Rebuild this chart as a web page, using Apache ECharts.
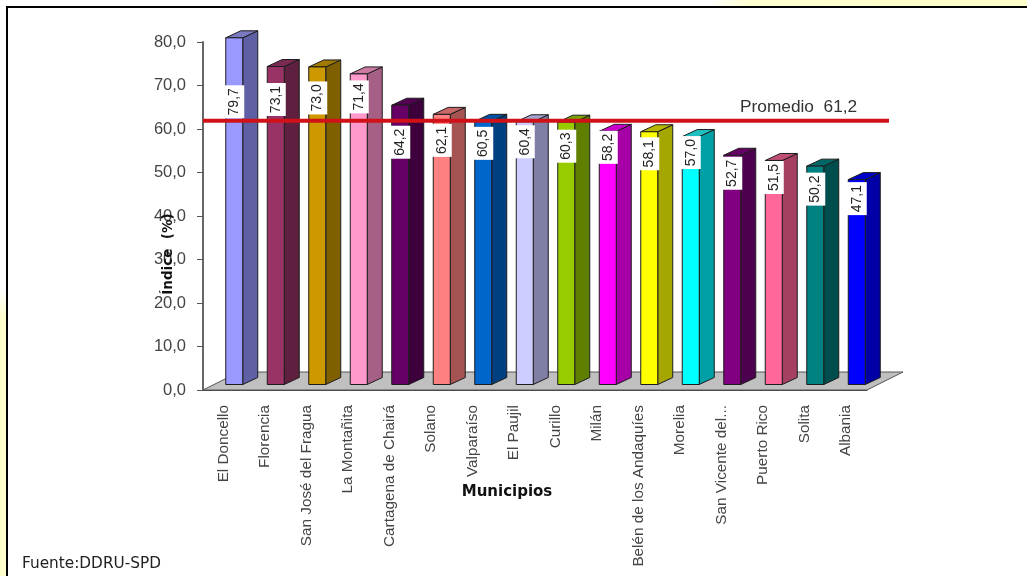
<!DOCTYPE html>
<html>
<head>
<meta charset="utf-8">
<style>html,body{margin:0;padding:0;background:#fff}#c{width:1027px;height:576px}</style>
<script src="https://cdn.jsdelivr.net/npm/echarts@6/dist/echarts.min.js"></script>
</head>
<body>
<div id="c"></div>
<script>
const municipios = ['El Doncello','Florencia','San José del Fragua','La Montañita','Cartagena de Chairá','Solano','Valparaíso','El Paujil','Curillo','Milán','Belén de los Andaquíes','Morelia','San Vicente del...','Puerto Rico','Solita','Albania'];
const indice = [79.7,73.1,73.0,71.4,64.2,62.1,60.5,60.4,60.3,58.2,58.1,57.0,52.7,51.5,50.2,47.1];
const promedio = 61.2;
const frontColors = ['#9999ff','#993366','#cc9900','#ff99cc','#660066','#ff8080','#0066cc','#ccccff','#99cc00','#ff00ff','#ffff00','#00ffff','#800080','#ff6699','#008080','#0000ff'];
const sideColors  = ['#5f5fa6','#5f2040','#7f5f00','#a66085','#3d003d','#a65353','#004080','#7f7fa6','#5f7f00','#a600a6','#a6a600','#00a0a6','#4d004d','#a64060','#004d4d','#0000a6'];
const topColors   = ['#7a7ac2','#7a2952','#a37a00','#cc7aa3','#520052','#c96666','#0052a3','#a3a3cc','#7aa300','#cc00cc','#b8b800','#20c0c0','#660066','#c05078','#006666','#0000cc'];
const labelDrop   = [64,33,31,23,37,26,22,20,24,16,22,16,18,17,23,19];
const fmt = v => v.toFixed(1).replace('.', ',');
const BAR_W = 17, SIDE_X = 15, SIDE_Y = 7, SHIFT_X = 10.5, SHIFT_Y = 5.5, FLOOR_X = 36, FLOOR_Y = 18;
const ink = '#1c1c1c';

function barItem(params, api) {
  const i = api.value(0), v = api.value(1);
  const top = api.coord([i, v]), base = api.coord([i, 0]);
  const l = top[0] + SHIFT_X - BAR_W / 2, r = l + BAR_W;
  const t = top[1] - SHIFT_Y, b = base[1] - SHIFT_Y;
  const st = c => ({ fill: c, stroke: ink, lineWidth: 1 });
  return { type: 'group', children: [
    { type: 'polygon', shape: { points: [[r,t],[r+SIDE_X,t-SIDE_Y],[r+SIDE_X,b-SIDE_Y],[r,b]] }, style: st(sideColors[i]) },
    { type: 'polygon', shape: { points: [[l,t],[l+SIDE_X,t-SIDE_Y],[r+SIDE_X,t-SIDE_Y],[r,t]] }, style: st(topColors[i]) },
    { type: 'rect', shape: { x: l, y: t, width: BAR_W, height: b - t }, style: st(frontColors[i]) }
  ]};
}
function labelItem(params, api) {
  const i = api.value(0), v = api.value(1);
  const top = api.coord([i, v]);
  const cx = top[0] + SHIFT_X, cy = top[1] - SHIFT_Y + labelDrop[i];
  return { type: 'group', children: [
    { type: 'rect', shape: { x: cx - 10, y: cy - 16.5, width: 20, height: 33 }, style: { fill: '#fff' } },
    { type: 'text', x: cx, y: cy, rotation: Math.PI / 2,
      style: { text: fmt(v), fill: '#222', font: '14px "Liberation Sans"', textAlign: 'center', textVerticalAlign: 'middle' } }
  ]};
}
function floorItem(params, api) {
  const g = params.coordSys;
  const y0 = api.coord([0, 0])[1];
  return { type: 'polygon', shape: { points: [[g.x,y0],[g.x+FLOOR_X,y0-FLOOR_Y],[g.x+g.width+FLOOR_X,y0-FLOOR_Y],[g.x+g.width,y0]] },
    style: { fill: '#c0c0c0', stroke: '#555', lineWidth: 1 } };
}
function avgItem(params, api) {
  const g = params.coordSys;
  const y = api.coord([0, api.value(1)])[1] - 3;
  return { type: 'line', shape: { x1: g.x, y1: y, x2: g.x + 686, y2: y }, style: { stroke: '#d01218', lineWidth: 4 } };
}
const pts = indice.map((v, i) => [i, v]);
const chart = echarts.init(document.getElementById('c'));
const sans = '"Liberation Sans"';
chart.setOption({
  animation: false,
  backgroundColor: '#fff',
  grid: { left: 203, right: 160, top: 42, bottom: 186 },
  xAxis: { type: 'category', data: municipios, boundaryGap: true,
    axisLine: { lineStyle: { color: '#444', width: 1 } },
    axisTick: { length: 5, lineStyle: { color: '#444' } },
    axisLabel: { rotate: 90, interval: 0, margin: 15, color: '#444', fontFamily: sans, fontSize: 15.3 } },
  yAxis: { type: 'value', min: 0, max: 80, interval: 10,
    splitLine: { show: false },
    axisLine: { show: true, lineStyle: { color: '#666', width: 2 } },
    axisTick: { show: true, length: 6, lineStyle: { color: '#555' } },
    axisLabel: { margin: 17, color: '#444', fontFamily: sans, fontSize: 16.5, padding: [5,0,0,0], formatter: fmt } },
  series: [
    { type: 'custom', data: [[0, 0]], renderItem: floorItem, clip: false, z: 1, silent: true },
    { type: 'custom', data: pts, renderItem: barItem, clip: false, z: 2, silent: true },
    { type: 'custom', data: [[0, promedio]], renderItem: avgItem, clip: false, z: 3, silent: true },
    { type: 'custom', data: pts, renderItem: labelItem, clip: false, z: 4, silent: true }
  ],
  graphic: [
    { type: 'rect', z: 0, shape: { x: 0, y: 0, width: 1027, height: 6 }, style: { fill: new echarts.graphic.LinearGradient(0,0,1,0,[{offset:0,color:'#ffffff'},{offset:0.69,color:'#ffffff'},{offset:0.73,color:'#ffffd0'},{offset:1,color:'#ffffcc'}]) } },
    { type: 'rect', z: 0, shape: { x: 0, y: 290, width: 6, height: 286 }, style: { fill: new echarts.graphic.LinearGradient(0,0,0,1,[{offset:0,color:'#ffffff'},{offset:0.1,color:'#ffffcc'},{offset:1,color:'#ffffcc'}]) } },
    { type: 'rect', z: 5, shape: { x: 6, y: 6, width: 1021, height: 2 }, style: { fill: '#000' } },
    { type: 'rect', z: 5, shape: { x: 6, y: 6, width: 2, height: 570 }, style: { fill: '#000' } },
    { type: 'text', z: 6, x: 740, y: 107, style: { text: 'Promedio  ' + fmt(promedio), fill: '#333', font: '17.3px ' + sans, textAlign: 'left', textVerticalAlign: 'middle' } },
    { type: 'text', z: 6, x: 507, y: 492, style: { text: 'Municipios', fill: '#111', font: 'bold 15px "DejaVu Sans"', textAlign: 'center', textVerticalAlign: 'middle' } },
    { type: 'text', z: 6, x: 168, y: 254, rotation: Math.PI / 2, style: { text: 'Índice  (%)', fill: '#111', font: 'bold 13.5px "DejaVu Sans"', textAlign: 'center', textVerticalAlign: 'middle' } },
    { type: 'text', z: 6, x: 22, y: 564, style: { text: 'Fuente:DDRU-SPD', fill: '#222', font: '15.3px "DejaVu Sans"', textAlign: 'left', textVerticalAlign: 'middle' } }
  ]
});
</script>
</body>
</html>
